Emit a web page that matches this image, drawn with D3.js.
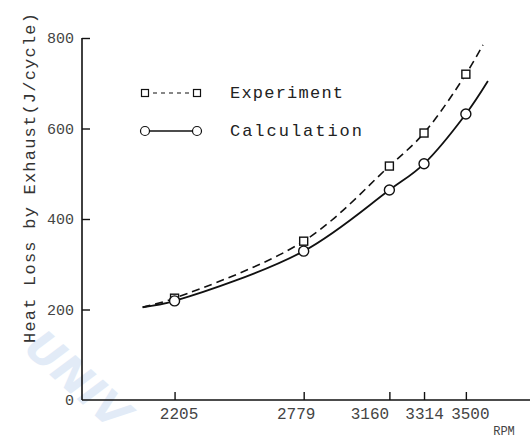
<!DOCTYPE html>
<html><head><meta charset="utf-8">
<script src="https://cdn.jsdelivr.net/npm/d3@7/dist/d3.min.js"></script>
<style>body{margin:0;background:#fff}svg{display:block}</style>
</head><body>
<svg id="c" width="532" height="440"></svg>
<script>
const rpmTicks = [2205, 2779, 3160, 3314, 3500];
const yTicks = [0, 200, 400, 600, 800];
const expValues = [225, 351, 517, 590, 720];
const calcValues = [219, 329, 464, 522, 632];
// curve traces (start, through points, end)
const expCurveRpm = [2063, 2205, 2779, 3160, 3314, 3500, 3576];
const expCurveVal = [205, 225, 351, 517, 590, 720, 785];
const calcCurveRpm = [2063, 2205, 2779, 3160, 3314, 3500, 3598];
const calcCurveVal = [205, 219, 329, 464, 522, 632, 705];
const seriesNames = ["Experiment", "Calculation"];
const yTitle = "Heat Loss by Exhaust(J/cycle)";
const xTitle = "RPM";

const svg = d3.select("#c");
const font = "'Liberation Mono','DejaVu Sans Mono',monospace";
const ink = "#111";

const x = d3.scaleLinear().domain([1793.5, 3794]).range([82, 532]);
const y = d3.scaleLinear().domain([0, 800]).range([400, 38]);

// watermark
svg.append("text").attr("x", 22).attr("y", 350)
  .attr("transform", "rotate(42 22 350)")
  .attr("font-family", "'DejaVu Sans',sans-serif").attr("font-weight", "bold").attr("font-style", "italic")
  .attr("font-size", 44).attr("fill", "#e2ebf7").text("UNIV");

// axes
const labelShift = {2205: 4, 2779: -8, 3160: -20, 3314: 0, 3500: 4};
const xAxis = d3.axisBottom(x).tickValues(rpmTicks).tickSize(-8).tickPadding(8).tickFormat(d3.format("d"));
const gx = svg.append("g").attr("transform", "translate(0,400)").call(xAxis);
gx.select(".domain").attr("d", "M82,0H530").attr("stroke", ink).attr("stroke-width", 1.6);
gx.selectAll(".tick line").attr("stroke", ink).attr("stroke-width", 1.4);
gx.selectAll(".tick text").attr("font-family", font).attr("font-size", 16).attr("fill", "#444")
  .attr("dx", d => labelShift[d] || 0);

const yAxis = d3.axisLeft(y).tickValues(yTicks).tickSize(-8).tickPadding(8).tickFormat(d3.format("d"));
const gy = svg.append("g").attr("transform", "translate(82,0)").call(yAxis);
gy.select(".domain").attr("d", "M0,38V400").attr("stroke", ink).attr("stroke-width", 1.6);
gy.selectAll(".tick line").attr("stroke", ink).attr("stroke-width", 1.4);
gy.selectAll(".tick line").filter(d => d === 0).remove();
gy.selectAll(".tick text").attr("font-family", font).attr("font-size", 15).attr("fill", "#444");

svg.append("text").attr("x", 504).attr("y", 435).attr("text-anchor", "middle")
  .attr("font-family", font).attr("font-size", 12).attr("fill", "#444").text(xTitle);

svg.append("text").attr("transform", "translate(35,178) rotate(-90)")
  .attr("text-anchor", "middle").attr("font-family", font).attr("font-size", 17)
  .attr("fill", "#333").attr("textLength", 330).attr("lengthAdjust", "spacing").text(yTitle);

// curves
const line = d3.line().x(d => x(d[0])).y(d => y(d[1])).curve(d3.curveCatmullRom.alpha(0.5));
svg.append("path").attr("d", line(d3.zip(expCurveRpm, expCurveVal)))
  .attr("fill", "none").attr("stroke", ink).attr("stroke-width", 1.6).attr("stroke-dasharray", "8,5");
svg.append("path").attr("d", line(d3.zip(calcCurveRpm, calcCurveVal)))
  .attr("fill", "none").attr("stroke", ink).attr("stroke-width", 1.8);

// markers
svg.append("g").selectAll("rect").data(d3.zip(rpmTicks, expValues)).join("rect")
  .attr("x", d => x(d[0]) - 4).attr("y", d => y(d[1]) - 4).attr("width", 8).attr("height", 8)
  .attr("fill", "#fff").attr("stroke", ink).attr("stroke-width", 1.4);
svg.append("g").selectAll("circle").data(d3.zip(rpmTicks, calcValues)).join("circle")
  .attr("cx", d => x(d[0])).attr("cy", d => y(d[1])).attr("r", 5)
  .attr("fill", "#fff").attr("stroke", ink).attr("stroke-width", 1.4);

// legend
const lg = svg.append("g");
lg.append("line").attr("x1", 145).attr("x2", 197).attr("y1", 93).attr("y2", 93)
  .attr("stroke", ink).attr("stroke-width", 1.2).attr("stroke-dasharray", "4,4");
[145, 197].forEach(cx => lg.append("rect").attr("x", cx - 3.5).attr("y", 89.5).attr("width", 7).attr("height", 7)
  .attr("fill", "#fff").attr("stroke", ink).attr("stroke-width", 1.2));
lg.append("line").attr("x1", 145).attr("x2", 197).attr("y1", 131).attr("y2", 131)
  .attr("stroke", ink).attr("stroke-width", 1.4);
[145, 197].forEach(cx => lg.append("circle").attr("cx", cx).attr("cy", 131).attr("r", 4.5)
  .attr("fill", "#fff").attr("stroke", ink).attr("stroke-width", 1.2));
lg.append("text").attr("x", 230).attr("y", 98).attr("font-family", font).attr("font-size", 17)
  .attr("fill", "#222").attr("textLength", 113).attr("lengthAdjust", "spacing").text(seriesNames[0]);
lg.append("text").attr("x", 230).attr("y", 136).attr("font-family", font).attr("font-size", 17)
  .attr("fill", "#222").attr("textLength", 132).attr("lengthAdjust", "spacing").text(seriesNames[1]);
</script>
</body></html>
